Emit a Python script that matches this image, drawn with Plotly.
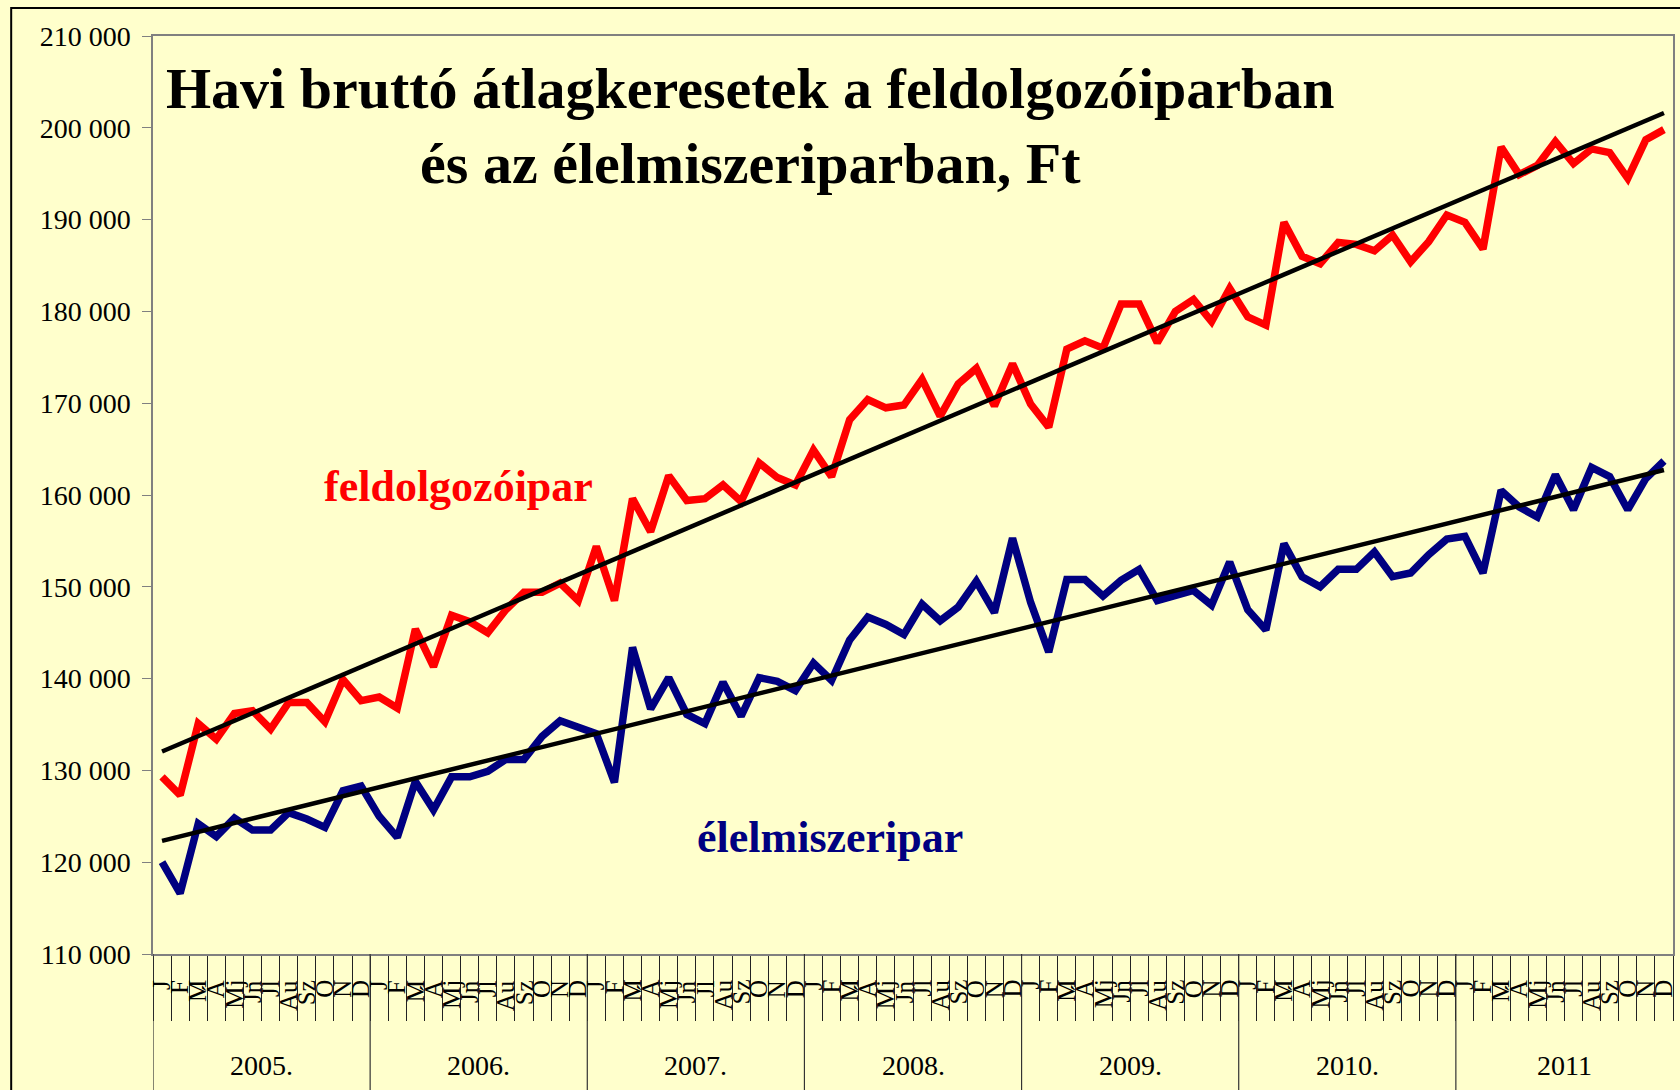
import numpy as np
import plotly.graph_objects as go

months = ["J", "F", "M", "Á", "Mj", "Jn", "Jl", "Au", "Sz", "O", "N", "D"]
years = ["2005.", "2006.", "2007.", "2008.", "2009.", "2010.", "2011"]

feldolgozoipar = [
    129300, 127300, 135100, 133400, 136200, 136500, 134500, 137400, 137400, 135300, 139900, 137600,
    138000, 136800, 145400, 141300, 146900, 146200, 145000, 147500, 149400, 149400, 150400, 148500,
    154400, 148500, 159600, 156000, 162100, 159400, 159600, 161100, 159300, 163500, 161900, 161100,
    164900, 162000, 168200, 170400, 169500, 169800, 172600, 168600, 172100, 173800, 169700, 174300,
    169900, 167400, 175900, 176800, 176000, 180800, 180800, 176600, 180000, 181300, 178900, 182500,
    179400, 178500, 189700, 186000, 185200, 187500, 187300, 186600, 188300, 185400, 187600, 190500,
    189700, 186800, 197900, 194900, 195900, 198500, 196100, 197700, 197300, 194500, 198700, 199800,
]
elelmiszeripar = [
    120000, 116600, 124200, 122800, 124800, 123500, 123500, 125400, 124700, 123800, 127800, 128300,
    125000, 122700, 128800, 125700, 129300, 129300, 129900, 131200, 131200, 133700, 135400, 134800,
    134000, 128700, 143400, 136700, 140100, 136100, 135100, 139600, 135900, 140100, 139700, 138700,
    141700, 139800, 144200, 146700, 145900, 144800, 148100, 146300, 147800, 150600, 147200, 155300,
    148300, 142900, 150800, 150800, 149000, 150700, 151900, 148500, 149000, 149600, 148000, 152700,
    147500, 145300, 154700, 151100, 150000, 151900, 151900, 153800, 151100, 151500, 153500, 155200,
    155500, 151500, 160500, 158700, 157600, 162200, 158400, 163000, 162000, 158400, 161800, 163700,
]

cats = [f"{y} {m}" for y in years for m in months]
idx = np.arange(len(cats))

def trend(vals):
    k, b = np.polyfit(idx, np.array(vals, dtype=float), 1)
    return list(k * idx + b)

SERIF = "Times New Roman, Liberation Serif, serif"
BG = "#FFFFCC"

fig = go.Figure()
fig.add_trace(go.Scatter(x=cats, y=feldolgozoipar, mode="lines",
                         line=dict(color="#FF0000", width=7.5), showlegend=False))
fig.add_trace(go.Scatter(x=cats, y=elelmiszeripar, mode="lines",
                         line=dict(color="#000080", width=7.5), showlegend=False))
fig.add_trace(go.Scatter(x=cats, y=trend(feldolgozoipar), mode="lines",
                         line=dict(color="#000000", width=4.5), showlegend=False))
fig.add_trace(go.Scatter(x=cats, y=trend(elelmiszeripar), mode="lines",
                         line=dict(color="#000000", width=4.5), showlegend=False))

annotations = []
# month labels
for i, c in enumerate(cats):
    annotations.append(dict(x=c, xref="x", y=-0.026, yref="paper", text=months[i % 12],
                            textangle=-90, showarrow=False, xanchor="center", yanchor="top",
                            font=dict(family=SERIF, size=25, color="black")))
# year labels
for k, y in enumerate(years):
    annotations.append(dict(x=12 * k + 5.5, xref="x", y=-0.122, yref="paper", text=y,
                            showarrow=False, xanchor="center", yanchor="middle",
                            font=dict(family=SERIF, size=28, color="black")))
# title
annotations.append(dict(x=0.3929, xref="paper", y=0.902, yref="paper",
                        text="<b>Havi bruttó átlagkeresetek a feldolgozóiparban<br>és az élelmiszeriparban, Ft</b>",
                        showarrow=False, xanchor="center", yanchor="middle", align="center",
                        font=dict(family=SERIF, size=58, color="black")))
annotations.append(dict(x=0.201, xref="paper", y=0.5098, yref="paper", text="<b>feldolgozóipar</b>",
                        showarrow=False, xanchor="center", yanchor="middle",
                        font=dict(family=SERIF, size=44, color="#FF0000")))
annotations.append(dict(x=0.4455, xref="paper", y=0.1264, yref="paper", text="<b>élelmiszeripar</b>",
                        showarrow=False, xanchor="center", yanchor="middle",
                        font=dict(family=SERIF, size=44, color="#000080")))

shapes = []
for k in range(len(years)):
    shapes.append(dict(type="line", xref="x", yref="paper", x0=12 * k - 0.5, x1=12 * k - 0.5,
                       y0=-0.16, y1=0, line=dict(color="#333333", width=1.2)))
shapes.append(dict(type="rect", xref="paper", yref="paper", x0=-0.0933, x1=1.02, y0=-0.25, y1=1.0305,
                   line=dict(color="black", width=2), fillcolor="rgba(0,0,0,0)", layer="above"))

fig.update_layout(
    width=1680, height=1090,
    margin=dict(l=153, r=5, t=36, b=136),
    paper_bgcolor=BG, plot_bgcolor=BG,
    separators=". ",
    annotations=annotations, shapes=shapes,
    font=dict(family=SERIF, color="black"),
)
fig.update_xaxes(type="category", range=[-0.5, len(cats) - 0.5], showgrid=False, zeroline=False,
                 showline=True, linecolor="#808080", linewidth=1.5, mirror=True,
                 ticks="outside", tickson="boundaries", ticklen=65, tickcolor="#222222", tickwidth=1,
                 showticklabels=False)
fig.update_yaxes(range=[110000, 210000], dtick=10000, tickformat=",d", showgrid=False, zeroline=False,
                 showline=True, linecolor="#808080", linewidth=1.5, mirror=True,
                 ticks="outside", ticklen=9, tickcolor="#808080", ticklabelstandoff=6,
                 tickfont=dict(family=SERIF, size=28, color="black"))

fig.write_html("out.html", config={"displayModeBar": False},
               post_script="document.body.style.margin='0';")
